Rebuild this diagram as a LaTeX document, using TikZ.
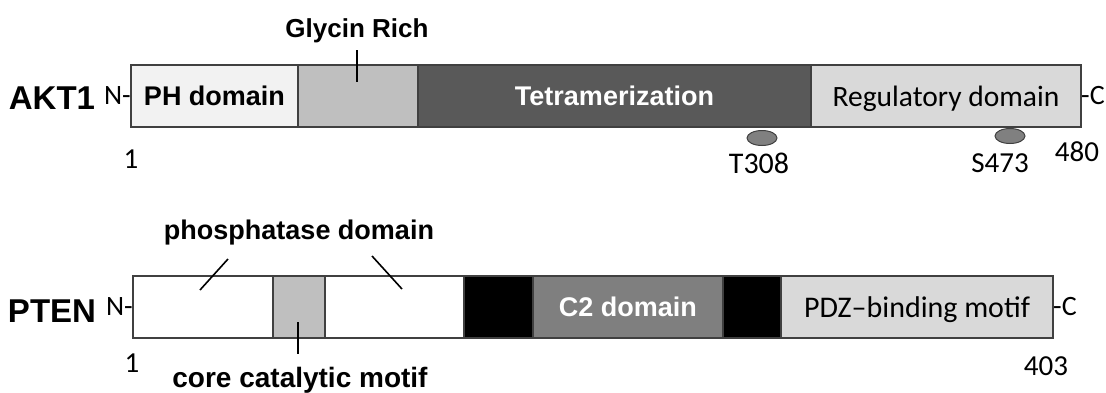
\documentclass[tikz,border=0pt]{standalone}
\usepackage{fontspec}
\setmainfont{Liberation Sans}
\newfontfamily\calfont[Numbers=Lining, Ligatures=TeX]{Carlito}
\usetikzlibrary{shapes.geometric}
\definecolor{edge}{HTML}{404040}
\definecolor{phfill}{HTML}{F2F2F2}
\definecolor{glyfill}{HTML}{BFBFBF}
\definecolor{tetfill}{HTML}{595959}
\definecolor{regfill}{HTML}{D9D9D9}
\definecolor{c2fill}{HTML}{7F7F7F}
\definecolor{sitefill}{HTML}{808080}
\tikzset{
  seg/.style={draw=edge, line width=1.2pt, fill=#1, minimum height=62pt, inner sep=0pt, outer sep=0pt, anchor=north west},
  tick/.style={line width=1.6pt},
  site/.style={ellipse, draw=edge, line width=1pt, fill=sitefill, minimum width=30pt, minimum height=15pt, inner sep=0pt},
  protname/.style={font=\fontsize{33}{34}\selectfont\bfseries, inner sep=0pt},
  lbl/.style={font=\fontsize{27}{30}\selectfont\bfseries, inner sep=0pt},
  cal/.style={font=\calfont\fontsize{#1}{#1}\selectfont, inner sep=0pt},
}
\begin{document}
\begin{tikzpicture}[x=1pt, y=-1pt]
  \useasboundingbox (0,0) rectangle (1106,392);
  % AKT1
  \node[protname] (akt) at (52,98) {AKT1};
  \node[seg=phfill, minimum width=167pt] (ph) at (131,65) {\fontsize{27}{30}\selectfont\bfseries PH domain};
  \node[seg=glyfill, minimum width=120pt] (gly) at (298,65) {};
  \node[seg=tetfill, minimum width=393pt, text=white] (tet) at (418,65) {\fontsize{27}{30}\selectfont\bfseries Tetramerization};
  \node[seg=regfill, minimum width=270pt] (reg) at (811,65) {};
  \node[cal=29.5] (reglbl) at ([yshift=-3pt]reg.center) {Regulatory domain};
  \node[cal=28, anchor=east] (aktn) at (ph.west) {N-};
  \node[cal=28, anchor=west] (aktc) at (reg.east) {-C};
  \node[lbl, font=\fontsize{26}{28}\selectfont\bfseries] (glylbl) at (357,31) {Glycin Rich};
  \coordinate (glytop) at (357,50);
  \coordinate (glybot) at (357,82);
  \draw[tick] (glytop) -- (glybot);
  \node[site] (t308) at (762,138) {};
  \node[site] (s473) at (1010,136) {};
  \node[cal=30] (t308lbl) at (759,163) {T308};
  \node[cal=29] (s473lbl) at (1000,163) {S473};
  \node[cal=29] (aktend) at (1077,152) {480};
  \node[cal=29] (aktstart) at (131,159) {1};
  % PTEN
  \node[protname] (pten) at (52,311) {PTEN};
  \node[seg=white, minimum width=140pt] (pha) at (133,276) {};
  \node[seg=glyfill, minimum width=52pt] (core) at (273,276) {};
  \node[seg=white, minimum width=139pt] (phb) at (325,276) {};
  \node[seg=black, minimum width=69pt] (linka) at (464,276) {};
  \node[seg=c2fill, minimum width=190pt, text=white] (c2) at (533,276) {\fontsize{27}{30}\selectfont\bfseries C2 domain};
  \node[seg=black, minimum width=58pt] (linkb) at (723,276) {};
  \node[seg=regfill, minimum width=272pt] (pdz) at (781,276) {};
  \node[cal=30] (pdzlbl) at ([yshift=-3pt]pdz.center) {PDZ--binding motif};
  \node[cal=28, anchor=east] (ptenn) at (pha.west) {N-};
  \node[cal=28, anchor=west] (ptenc) at (pdz.east) {-C};
  \node[lbl] (phlbl) at (299,233) {phosphatase domain};
  \coordinate (pha1) at (228,259);
  \coordinate (pha2) at (200,290);
  \coordinate (phb1) at (372,256);
  \coordinate (phb2) at (402,289);
  \draw[tick] (pha1) -- (pha2);
  \draw[tick] (phb1) -- (phb2);
  \node[lbl, font=\fontsize{28}{30}\selectfont\bfseries] (corelbl) at (300,380) {core catalytic motif};
  \coordinate (coretop) at (298,322);
  \coordinate (corebot) at (298,354);
  \draw[tick] (coretop) -- (corebot);
  \node[cal=29] (ptenstart) at (132,363) {1};
  \node[cal=29] (ptenend) at (1046,366) {403};
\end{tikzpicture}
\end{document}
